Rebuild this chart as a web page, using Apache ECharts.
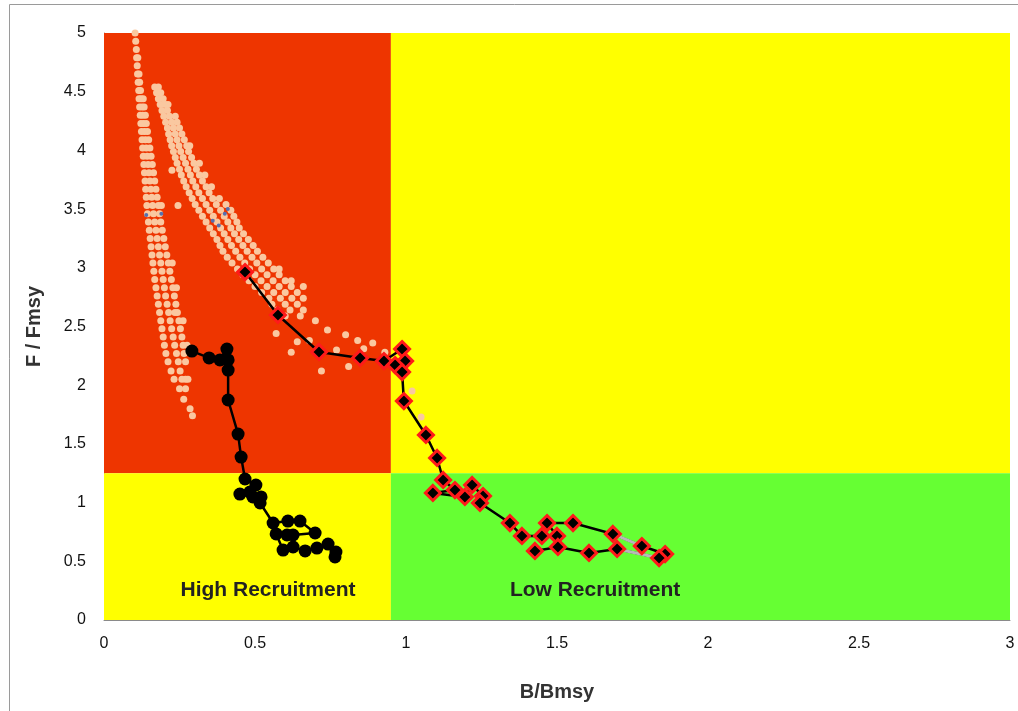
<!DOCTYPE html>
<html>
<head>
<meta charset="utf-8">
<script src="https://cdn.jsdelivr.net/npm/echarts@6/dist/echarts.min.js"></script>
<style>
  html, body { margin: 0; padding: 0; background: #fff; }
  #main { width: 1018px; height: 711px; }
</style>
</head>
<body>
<div id="main"></div>
<script>
// 坐标轴范围
const xRange = [0, 3];
const yRange = [0, 5];
const tickStep = 0.5;

// 背景分区 [左下, 右上]
const zoneRed = [[0, 1.25], [0.95, 5]];
const zoneYellowTop = [[0.95, 1.25], [3, 5]];
const zoneYellowLow = [[0, 0], [0.95, 1.25]];
const zoneGreen = [[0.95, 0], [3, 1.25]];

// 分区文字
const zoneLabels = ['High Recruitment', 'Low Recruitment'];
const zoneLabelPos = [[0.543, 0.25], [1.626, 0.25]];

// 模拟点云 每行: [y, x1, x2, ...]
const cloudRowsA = [
  [5.00, 0.103], [4.93, 0.105], [4.86, 0.107], [4.79, 0.108, 0.112], [4.72, 0.110],
  [4.65, 0.111, 0.116], [4.58, 0.113, 0.118], [4.51, 0.115, 0.121],
  [4.44, 0.116, 0.123, 0.130], [4.37, 0.118, 0.126, 0.133], [4.30, 0.120, 0.128, 0.137],
  [4.23, 0.122, 0.131, 0.140], [4.16, 0.124, 0.134, 0.144], [4.09, 0.126, 0.137, 0.148],
  [4.02, 0.128, 0.140, 0.152], [3.95, 0.130, 0.143, 0.156], [3.88, 0.132, 0.146, 0.160],
  [3.81, 0.134, 0.149, 0.164], [3.74, 0.136, 0.152, 0.168], [3.67, 0.138, 0.155, 0.172],
  [3.60, 0.140, 0.158, 0.176], [3.53, 0.142, 0.161, 0.180, 0.190], [3.46, 0.144, 0.164, 0.184],
  [3.39, 0.147, 0.168, 0.188], [3.32, 0.150, 0.172, 0.193], [3.25, 0.153, 0.176, 0.198],
  [3.18, 0.156, 0.180, 0.203], [3.11, 0.159, 0.184, 0.208], [3.04, 0.162, 0.188, 0.213, 0.226],
  [2.97, 0.165, 0.192, 0.218], [2.90, 0.168, 0.196, 0.223], [2.83, 0.172, 0.200, 0.228, 0.240],
  [2.76, 0.176, 0.204, 0.233], [2.69, 0.180, 0.209, 0.238], [2.62, 0.184, 0.214, 0.243],
  [2.55, 0.188, 0.219, 0.248, 0.262], [2.48, 0.192, 0.224, 0.253], [2.41, 0.196, 0.229, 0.258],
  [2.34, 0.200, 0.234, 0.262, 0.275], [2.27, 0.205, 0.240, 0.265], [2.20, 0.212, 0.246, 0.270],
  [2.12, 0.222, 0.252], [2.05, 0.232, 0.258, 0.278], [1.97, 0.250, 0.270], [1.88, 0.264],
  [1.80, 0.285], [1.74, 0.293]
];
const cloudRowsB = [
  [4.54, 0.168, 0.180], [4.49, 0.174, 0.188], [4.44, 0.180, 0.196], [4.39, 0.186, 0.203, 0.212],
  [4.34, 0.192, 0.210], [4.29, 0.198, 0.217, 0.236], [4.24, 0.204, 0.224, 0.242],
  [4.19, 0.210, 0.230, 0.250], [4.14, 0.214, 0.236, 0.258], [4.09, 0.219, 0.242, 0.266],
  [4.04, 0.224, 0.248, 0.274, 0.284], [3.99, 0.230, 0.254, 0.280], [3.94, 0.236, 0.262, 0.290],
  [3.89, 0.242, 0.270, 0.298, 0.316], [3.84, 0.250, 0.278, 0.306], [3.79, 0.256, 0.286, 0.316, 0.334],
  [3.74, 0.264, 0.294, 0.326], [3.69, 0.272, 0.304, 0.338, 0.356], [3.64, 0.282, 0.314, 0.348],
  [3.59, 0.292, 0.326, 0.360, 0.382], [3.54, 0.302, 0.338, 0.372, 0.404],
  [3.49, 0.314, 0.350, 0.386, 0.420], [3.44, 0.326, 0.362, 0.398, 0.430],
  [3.39, 0.338, 0.374, 0.410, 0.440], [3.34, 0.350, 0.386, 0.420, 0.448],
  [3.29, 0.362, 0.398, 0.432, 0.462], [3.24, 0.374, 0.410, 0.446, 0.478],
  [3.19, 0.384, 0.422, 0.460, 0.494], [3.14, 0.394, 0.436, 0.474, 0.508],
  [3.09, 0.408, 0.450, 0.490, 0.526], [3.04, 0.424, 0.466, 0.506, 0.544],
  [2.99, 0.442, 0.482, 0.522, 0.562, 0.580], [2.94, 0.460, 0.500, 0.540, 0.580],
  [2.89, 0.480, 0.520, 0.560, 0.600, 0.620], [2.84, 0.500, 0.540, 0.580, 0.620, 0.660],
  [2.79, 0.522, 0.562, 0.600, 0.640], [2.74, 0.546, 0.584, 0.622, 0.660],
  [2.69, 0.556, 0.600, 0.640], [2.64, 0.574, 0.616, 0.660], [2.59, 0.600, 0.650]
];
// 零散点
const cloudScatter = [
  [0.70, 2.55], [0.74, 2.47], [0.68, 2.38], [0.80, 2.43], [0.84, 2.38], [0.89, 2.36],
  [0.86, 2.31], [0.99, 2.22], [0.81, 2.16], [0.72, 2.12], [0.64, 2.37], [0.77, 2.30],
  [0.93, 2.28], [0.245, 3.53], [0.225, 3.83], [0.57, 2.44], [0.62, 2.28], [1.02, 1.95],
  [1.05, 1.73], [0.235, 2.62], [0.28, 2.28], [0.27, 2.05]
];
const bluePoints = [[0.14, 3.45], [0.19, 3.46], [0.36, 3.40], [0.38, 3.36], [0.41, 3.50], [0.40, 3.46]];

// 高补充量轨迹 (圆点)
const highPath = [
  [0.291, 2.291], [0.348, 2.232], [0.384, 2.215], [0.407, 2.308], [0.411, 2.215], [0.411, 2.129],
  [0.411, 1.874], [0.444, 1.584], [0.454, 1.388], [0.467, 1.201], [0.503, 1.150], [0.450, 1.073],
  [0.483, 1.090], [0.493, 1.048], [0.520, 1.048], [0.517, 0.997], [0.560, 0.826], [0.609, 0.843],
  [0.649, 0.843], [0.699, 0.741], [0.626, 0.724], [0.606, 0.724], [0.570, 0.733], [0.593, 0.596],
  [0.626, 0.622], [0.666, 0.588], [0.705, 0.613], [0.742, 0.647], [0.768, 0.579], [0.765, 0.537]
];

// 低补充量轨迹 (菱形)
const lowPath = [
  [0.467, 2.964], [0.576, 2.598], [0.712, 2.283], [0.848, 2.232], [0.927, 2.206], [0.987, 2.308],
  [0.997, 2.206], [0.964, 2.172], [0.987, 2.112], [0.993, 1.865], [1.066, 1.576], [1.103, 1.380],
  [1.123, 1.193], [1.162, 1.107], [1.089, 1.082], [1.195, 1.048], [1.219, 1.150], [1.255, 1.056],
  [1.245, 0.997], [1.344, 0.826], [1.384, 0.716], [1.450, 0.716], [1.500, 0.716], [1.467, 0.826],
  [1.553, 0.826], [1.685, 0.733], [1.781, 0.630], [1.858, 0.562], [1.838, 0.528], [1.699, 0.605],
  [1.606, 0.571], [1.503, 0.622], [1.427, 0.588]
];
// 灰色连接段
const graySegA = [[1.685, 0.733], [1.781, 0.630]];
const graySegB = [[1.838, 0.528], [1.699, 0.605]];

const rowsToPoints = (rows) => {
  const out = [];
  rows.forEach((r) => {
    for (let i = 1; i < r.length; i++) out.push([r[i], r[0]]);
  });
  return out;
};

const chart = echarts.init(document.getElementById('main'));
const font = "'Liberation Sans', Arial, sans-serif";

const area = (z, color) => [{ coord: z[0], itemStyle: { color, opacity: 1 } }, { coord: z[1] }];

chart.setOption({
  backgroundColor: '#fff',
  animation: false,
  graphic: [{
    type: 'rect',
    shape: { x: 9.5, y: 4.5, width: 1100, height: 800 },
    style: { fill: 'none', stroke: '#9a9a9a', lineWidth: 1 },
    z: -10,
  }],
  grid: { left: 104, right: 8, top: 33, bottom: 91 },
  xAxis: {
    type: 'value',
    min: xRange[0],
    max: xRange[1],
    interval: tickStep,
    name: 'B/Bmsy',
    nameLocation: 'middle',
    nameGap: 62,
    nameTextStyle: { fontFamily: font, fontSize: 20, fontWeight: 'bold', color: '#333' },
    axisLine: { lineStyle: { color: '#8a8a8a', width: 1 } },
    axisTick: { show: false },
    splitLine: { show: false },
    axisLabel: { fontFamily: font, fontSize: 16, color: '#111', margin: 16 },
  },
  yAxis: {
    type: 'value',
    min: yRange[0],
    max: yRange[1],
    interval: tickStep,
    name: 'F / Fmsy',
    nameLocation: 'middle',
    nameGap: 60,
    nameRotate: 90,
    nameTextStyle: { fontFamily: font, fontSize: 20, fontWeight: 'bold', color: '#333' },
    axisLine: { show: true, lineStyle: { color: '#8a8a8a', width: 1 } },
    axisTick: { show: false },
    splitLine: { show: false },
    axisLabel: { fontFamily: font, fontSize: 16, color: '#111', margin: 18 },
  },
  series: [
    {
      type: 'scatter',
      data: [],
      silent: true,
      z: 0,
      markArea: {
        silent: true,
        data: [
          area(zoneRed, '#EE3500'),
          area(zoneYellowTop, '#FFFF00'),
          area(zoneYellowLow, '#FFFF00'),
          area(zoneGreen, '#66FF33'),
        ],
      },
    },
    {
      type: 'scatter',
      data: rowsToPoints(cloudRowsA).concat(rowsToPoints(cloudRowsB), cloudScatter),
      symbol: 'circle',
      symbolSize: 7,
      itemStyle: { color: '#FAC8A0', opacity: 1 },
      z: 2,
    },
    {
      type: 'scatter',
      data: bluePoints,
      symbol: 'circle',
      symbolSize: 4,
      itemStyle: { color: '#5570B0', opacity: 1 },
      z: 2,
    },
    {
      type: 'line',
      data: highPath,
      symbol: 'circle',
      symbolSize: 13,
      itemStyle: { color: '#000', opacity: 1 },
      lineStyle: { color: '#000', width: 2.5 },
      z: 4,
    },
    {
      type: 'line',
      data: lowPath,
      showSymbol: false,
      symbol: 'none',
      lineStyle: { color: '#000', width: 2.5 },
      z: 4,
    },
    {
      type: 'line',
      data: graySegA,
      symbol: 'none',
      lineStyle: { color: '#B8B8B8', width: 3 },
      z: 5,
    },
    {
      type: 'line',
      data: graySegB,
      symbol: 'none',
      lineStyle: { color: '#B8B8B8', width: 3 },
      z: 5,
    },
    {
      type: 'scatter',
      data: lowPath,
      symbol: 'diamond',
      symbolSize: 15,
      itemStyle: { color: '#000', borderColor: '#FF1A1A', borderWidth: 3, opacity: 1 },
      z: 6,
    },
    {
      type: 'scatter',
      data: zoneLabelPos.map((p, i) => ({ value: p, name: zoneLabels[i] })),
      symbolSize: 1,
      itemStyle: { opacity: 0 },
      label: {
        show: true,
        position: 'inside',
        formatter: '{b}',
        fontFamily: font,
        fontSize: 21,
        fontWeight: 'bold',
        color: '#222',
        opacity: 1,
      },
      z: 7,
    },
  ],
});
</script>
</body>
</html>
